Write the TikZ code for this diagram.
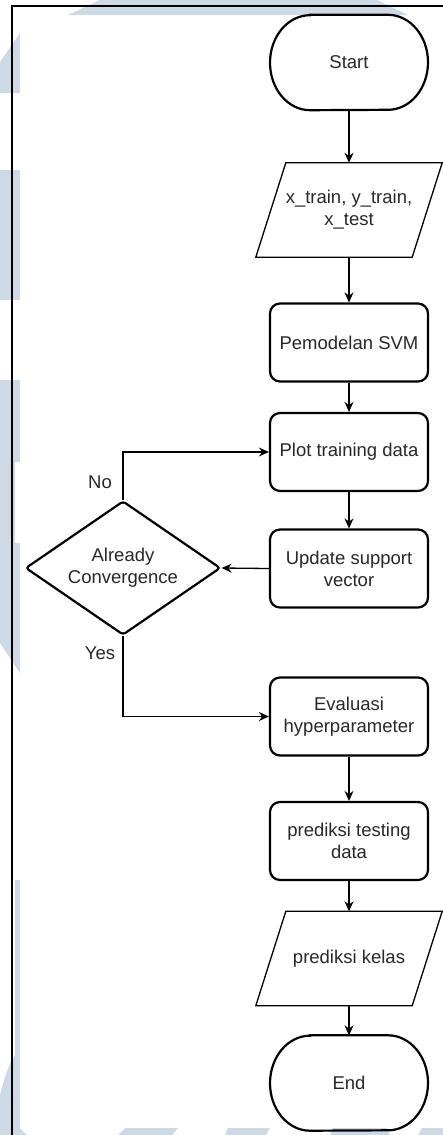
\documentclass[tikz,border=0pt]{standalone}
\usepackage{fontspec}
\setmainfont{Liberation Sans}
\usetikzlibrary{arrows.meta,shapes.geometric,calc}
\definecolor{wm}{RGB}{205,217,229}
\definecolor{txt}{RGB}{40,40,40}
\begin{document}
\begin{tikzpicture}[x=1pt,y=1pt,
  base/.style={font=\fontsize{18.5}{22.2}\selectfont, text=txt, align=center, inner sep=0pt},
  procbox/.style={base, draw, line width=2.2pt, rounded corners=10pt, minimum width=158pt, minimum height=78pt},
  termbox/.style={base, minimum width=158pt, minimum height=95pt},
  iobox/.style={base, minimum width=186pt, minimum height=94pt},
  decbox/.style={base, draw, diamond, line width=2.2pt, rounded corners=3pt, minimum width=195pt, minimum height=134pt, aspect=1.455},
  flow/.style={line width=1.3pt, -{Stealth[length=10pt,width=9pt]}},
  lbl/.style={base},
  wmark/.style={fill=wm, draw=none}
]
\useasboundingbox (0,0) rectangle (443,-1135);
\fill[white] (0,0) rectangle (443,-1135);
% watermark
\fill[wmark] (100,0) -- (377,0) -- (408,-15) -- (68,-15) -- cycle;
\fill[wmark] (0,-62) -- (20,-33) -- (20,-93) -- (0,-93) -- cycle;
\fill[wmark] (0,-170) rectangle (20,-300);
\fill[wmark] (0,-380) -- (20,-380) -- (20,-462) -- (15,-462) -- (15,-543) -- (20,-543) -- (20,-673) -- (0,-643) -- cycle;
\fill[wmark] (15,-880) -- (20,-880) -- (20,-1128) -- (27,-1135) -- (0,-1135) -- (0,-1095) .. controls (5,-1075) and (10,-1062) .. (15,-1055) -- cycle;
\fill[wmark] (125,-1128) -- (178,-1128) -- (172,-1135) -- (118,-1135) -- cycle;
\fill[wmark] (228,-1128) -- (270,-1128) -- (266,-1135) -- (225,-1135) -- cycle;
\fill[wmark] (333,-1128) -- (387,-1128) -- (390,-1135) -- (330,-1135) -- cycle;
\fill[wmark] (422,-1128) -- (443,-1128) -- (443,-1135) -- (418,-1135) -- cycle;
% frame
\draw[line width=1.1pt] (443,-6) -- (12,-6) -- (12,-1135);
% nodes
\node[termbox] (start) at (349,-62.5) {Start};
\node[iobox] (in1) at (349,-210) {x\_train, y\_train,\\x\_test};
\node[procbox] (svm) at (349,-342.5) {Pemodelan SVM};
\node[procbox] (plot) at (349,-452) {Plot training data};
\node[procbox] (upd) at (349,-568.5) {Update support\\vector};
\node[decbox] (dec) at (123,-568) {Already\\Convergence};
\node[procbox] (eval) at (349,-716.5) {Evaluasi\\hyperparameter};
\node[procbox] (pred) at (349,-841) {prediksi testing\\data};
\node[iobox] (out) at (349,-958.5) {prediksi kelas};
\node[termbox] (stop) at (349,-1083) {End};
% terminal outlines
\foreach \n in {start,stop}
  \draw[line width=2.2pt] ($(\n.north)+(-39,0)$) -- ($(\n.north)+(39,0)$)
    arc[start angle=90,end angle=-90,x radius=40pt,y radius=47.5pt]
    -- ($(\n.south)+(-39,0)$)
    arc[start angle=270,end angle=90,x radius=40pt,y radius=47.5pt] -- cycle;
% parallelogram outlines
\foreach \n in {in1,out}
  \draw[line width=1.3pt] ($(\n.north west)+(30,0)$) -- (\n.north east)
    -- ($(\n.south east)+(-30,0)$) -- (\n.south west) -- cycle;
% labels
\node[lbl] (nolbl) at (100,-482) {No};
\node[lbl] (yeslbl) at (100,-653) {Yes};
% connectors
\draw[flow] (start) -- (in1);
\draw[flow] (in1) -- (svm);
\draw[flow] (svm) -- (plot);
\draw[flow] (plot) -- (upd);
\draw[flow] (upd.west) -- (dec.east);
\draw[flow] (dec.north) |- (plot.west);
\draw[flow] (dec.south) |- (eval.west);
\draw[flow] (eval) -- (pred);
\draw[flow] (pred) -- (out);
\draw[flow] (out) -- (stop);
\end{tikzpicture}
\end{document}
